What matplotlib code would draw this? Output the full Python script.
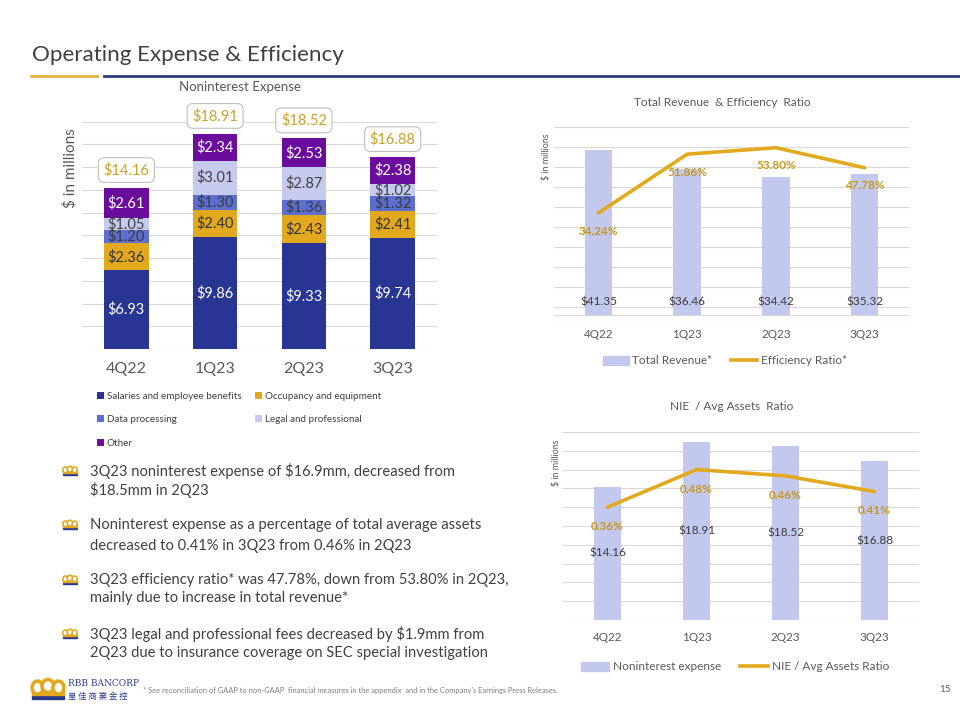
import numpy as np
import matplotlib.pyplot as plt
import matplotlib.patches as mpatches
from matplotlib.lines import Line2D
from matplotlib.transforms import IdentityTransform

plt.rcParams['font.family'] = ['Lato', 'DejaVu Sans']
plt.rcParams['text.parse_math'] = False

# data
quarters = ['4Q22', '1Q23', '2Q23', '3Q23']
salaries = [6.93, 9.86, 9.33, 9.74]
occupancy = [2.36, 2.40, 2.43, 2.41]
data_processing = [1.20, 1.30, 1.36, 1.32]
legal = [1.05, 3.01, 2.87, 1.02]
other = [2.61, 2.34, 2.53, 2.38]
total_expense = [14.16, 18.91, 18.52, 16.88]
total_revenue = [41.35, 36.46, 34.42, 35.32]
efficiency_ratio = [34.24, 51.86, 53.80, 47.78]
nie_expense = [14.16, 18.91, 18.52, 16.88]
nie_avg_assets = [0.36, 0.48, 0.46, 0.41]

bullets = [
    ("3Q23 noninterest expense of $16.9mm, decreased from", "$18.5mm in 2Q23"),
    ("Noninterest expense as a percentage of total average assets",
     "decreased to 0.41% in 3Q23 from 0.46% in 2Q23"),
    ("3Q23 efficiency ratio* was 47.78%, down from 53.80% in 2Q23,",
     "mainly due to increase in total revenue*"),
    ("3Q23 legal and professional fees decreased by $1.9mm from",
     "2Q23 due to insurance coverage on SEC special investigation"),
]

NAVY = '#283593'
GOLD = '#E3A91E'
MIDBLUE = '#5C6FD0'
LAVENDER = '#C5CAEE'
PURPLE = '#6A0C9C'
BARLIGHT = '#C3C9EE'
GRID = '#D9D9D9'
TEXT = '#404040'
GRAYTXT = '#595959'

W, H = 960, 720
fig = plt.figure(figsize=(9.6, 7.2), dpi=100)
fig.patch.set_facecolor('white')


def axes_px(x0, y0, x1, y1):
    return fig.add_axes([x0 / W, 1 - y1 / H, (x1 - x0) / W, (y1 - y0) / H])


def ftext(x, y, s, **kw):
    return fig.text(x / W, 1 - y / H, s, **kw)


def crown(cx, cy, s=1.0):
    tr = IdentityTransform()
    yy = H - cy
    fig.add_artist(mpatches.Rectangle((cx - 8 * s, yy - 4.5 * s), 16 * s, 1.6 * s,
                                      color='#2B3A8C', transform=tr))
    fig.add_artist(mpatches.Rectangle((cx - 8 * s, yy - 2.6 * s), 16 * s, 2.2 * s,
                                      color=GOLD, transform=tr))
    for dx, dy, w in [(-5.2, 1.2, 5.5), (0, 2.0, 6.0), (5.2, 1.2, 5.5)]:
        fig.add_artist(mpatches.Ellipse((cx + dx * s, yy + dy * s), w * s, 6.5 * s,
                                        facecolor='white', edgecolor=GOLD,
                                        lw=1.3 * s, transform=tr))


def style_axes(ax):
    for sp in ax.spines.values():
        sp.set_visible(False)
    ax.tick_params(axis='y', length=0, labelleft=False, labelright=False)
    ax.tick_params(axis='x', length=0)
    ax.set_axisbelow(True)


# header
ftext(32, 55, 'Operating Expense & Efficiency', fontsize=16.1, color=TEXT, va='center')
fig.add_artist(Line2D([31 / W, 97 / W], [1 - 76 / H] * 2, color='#E3B33C', lw=2))
fig.add_artist(Line2D([104 / W, 1.0], [1 - 75.5 / H] * 2, color='#2B3A7A', lw=2))

# ---- left: stacked noninterest expense ----
x = np.arange(len(quarters))
ax = axes_px(82, 121.6, 437, 349)
style_axes(ax)
series = [
    ('Salaries and employee benefits', salaries, NAVY, 'white'),
    ('Occupancy and equipment', occupancy, GOLD, '#333333'),
    ('Data processing', data_processing, MIDBLUE, '#3A3A3A'),
    ('Legal and professional', legal, LAVENDER, '#404040'),
    ('Other', other, PURPLE, 'white'),
]
bottom = np.zeros(len(quarters))
handles = {}
for name, vals, col, tcol in series:
    vals = np.array(vals)
    b = ax.bar(x, vals, 0.5, bottom=bottom, color=col, zorder=2)
    handles[name] = b
    for xi, bi, v in zip(x, bottom, vals):
        ax.text(xi, bi + v / 2, f'${v:.2f}', ha='center', va='center',
                fontsize=10.5, color=tcol, zorder=3)
    bottom = bottom + vals
for xi, top, tot in zip(x, bottom, total_expense):
    ax.annotate(f'${tot:.2f}', (xi, top), xytext=(0, 13), textcoords='offset points',
                ha='center', va='center', fontsize=10.5, color='#C9A227',
                bbox=dict(boxstyle='round,pad=0.35,rounding_size=0.4', fc='white',
                          ec='#BFBFBF', lw=0.8), annotation_clip=False)
ax.set_xlim(-0.5, 3.5)
ax.set_ylim(0, 20)
ax.set_yticks(np.arange(0, 21, 2))
ax.yaxis.grid(True, color=GRID, lw=0.8)
ax.set_xticks(x)
ax.set_xticklabels(quarters, fontsize=11.5, color=GRAYTXT)
ax.tick_params(axis='x', pad=9)
ftext(70, 168, '$ in millions', fontsize=11, color=GRAYTXT, rotation=90,
      ha='center', va='center')
ftext(240, 87, 'Noninterest Expense', fontsize=9.5, color=GRAYTXT, ha='center', va='center')
order = ['Salaries and employee benefits', 'Data processing', 'Other',
         'Occupancy and equipment', 'Legal and professional']
fig.legend([handles[n] for n in order], order, loc='upper left',
           bbox_to_anchor=(97 / W, 1 - 392 / H), ncol=2, frameon=False,
           fontsize=7.1, labelcolor=TEXT, handlelength=0.7, handleheight=0.7,
           handletextpad=0.3, columnspacing=1.4, labelspacing=1.45,
           borderaxespad=0, borderpad=0)

# ---- right top: total revenue & efficiency ratio ----
ax2 = axes_px(554, 127, 909, 327.3)
style_axes(ax2)
lo, hi = -3.08, 47.0
ax2.bar(x, total_revenue, 0.31, color=BARLIGHT, zorder=2)
ax2.axhline(0, color=GRID, lw=0.8, zorder=1)
for xi, v in zip(x, total_revenue):
    ax2.annotate(f'${v:.2f}', (xi, 0), xytext=(0, 9.5), textcoords='offset points',
                 ha='center', va='center', fontsize=8.5, color='#3A3A3A', zorder=3)
ax2.set_xlim(-0.5, 3.5)
ax2.set_ylim(lo, hi)
ax2.set_yticks(np.linspace(lo, hi, 11))
ax2.yaxis.grid(True, color=GRID, lw=0.8)
ax2.set_xticks(x)
ax2.set_xticklabels(quarters, fontsize=8.5, color=GRAYTXT)
ax2.tick_params(axis='x', pad=1.5)
t2 = ax2.twinx()
style_axes(t2)
t2.plot(x, efficiency_ratio, color=GOLD, lw=2.6, solid_capstyle='round', zorder=4)
for xi, v in zip(x, efficiency_ratio):
    t2.annotate(f'{v:.2f}%', (xi, v), xytext=(0, -13), textcoords='offset points',
                ha='center', va='center', fontsize=8.5, color='#C9971C', fontweight='bold')
t2.set_ylim(0, 60)
ftext(722, 102, 'Total Revenue  & Efficiency  Ratio', fontsize=8.5, color=GRAYTXT,
      ha='center', va='center')
ftext(546, 157, '$ in millions', fontsize=6.5, color=GRAYTXT, rotation=90,
      ha='center', va='center')
fig.legend([mpatches.Patch(color=BARLIGHT), Line2D([], [], color=GOLD, lw=2.6)],
           ['Total Revenue*', 'Efficiency Ratio*'], loc='center',
           bbox_to_anchor=(725 / W, 1 - 361 / H), ncol=2, frameon=False,
           fontsize=8.5, labelcolor=GRAYTXT, handlelength=2.2, handleheight=0.7,
           handletextpad=0.3, columnspacing=1.6)

# ---- right bottom: NIE / avg assets ----
ax3 = axes_px(563, 432, 919, 620)
style_axes(ax3)
ax3.bar(x, nie_expense, 0.31, color=BARLIGHT, zorder=2)
for xi, v in zip(x, nie_expense):
    ax3.text(xi, v / 2, f'${v:.2f}', ha='center', va='center', fontsize=8.5,
             color='#3A3A3A', zorder=3)
ax3.set_xlim(-0.5, 3.5)
ax3.set_ylim(0, 20)
ax3.set_yticks(np.arange(0, 21, 2))
ax3.yaxis.grid(True, color=GRID, lw=0.8)
ax3.set_xticks(x)
ax3.set_xticklabels(quarters, fontsize=8.5, color=GRAYTXT)
ax3.tick_params(axis='x', pad=8.5)
t3 = ax3.twinx()
style_axes(t3)
t3.plot(x, nie_avg_assets, color=GOLD, lw=2.6, solid_capstyle='round', zorder=4)
for xi, v in zip(x, nie_avg_assets):
    t3.annotate(f'{v:.2f}%', (xi, v), xytext=(0, -14), textcoords='offset points',
                ha='center', va='center', fontsize=8.5, color='#C9971C', fontweight='bold')
t3.set_ylim(0, 0.6)
ftext(732, 407, 'NIE  / Avg Assets  Ratio', fontsize=8.5, color=GRAYTXT,
      ha='center', va='center')
ftext(557, 463, '$ in millions', fontsize=6.5, color=GRAYTXT, rotation=90,
      ha='center', va='center')
fig.legend([mpatches.Patch(color=BARLIGHT), Line2D([], [], color=GOLD, lw=2.6)],
           ['Noninterest expense', 'NIE / Avg Assets Ratio'], loc='center',
           bbox_to_anchor=(735 / W, 1 - 667 / H), ncol=2, frameon=False,
           fontsize=8.5, labelcolor=GRAYTXT, handlelength=2.4, handleheight=0.7,
           handletextpad=0.3, columnspacing=1.6)

# ---- bullets ----
ys = [(471, 490), (525, 546), (580, 598), (634, 653)]
for (l1, l2), (y1, y2) in zip(bullets, ys):
    crown(70, y1, 0.9)
    ftext(90, y1, l1, fontsize=10.6, color=TEXT, va='center')
    ftext(90, y2, l2, fontsize=10.6, color=TEXT, va='center')

# ---- footer ----
crown(48, 690, 2.0)
ftext(68, 684, 'RBB BANCORP', fontsize=6.5, color='#2B3A8C', va='center', family='DejaVu Serif')
ftext(68, 696, '皇 佳 商 業 金 控', fontsize=6, color='#2B3A8C', va='center',
      family=['Noto Sans CJK TC', 'DejaVu Sans'])
ftext(143, 690, "* See reconciliation of GAAP to non-GAAP  financial measures in the appendix  and in the Company's Earnings Press Releases.",
      fontsize=5.4, color='#7F7F7F', va='center')
ftext(945, 690, '15', fontsize=7, color=GRAYTXT, va='center', ha='center')

fig.savefig('out.png', dpi=100)
